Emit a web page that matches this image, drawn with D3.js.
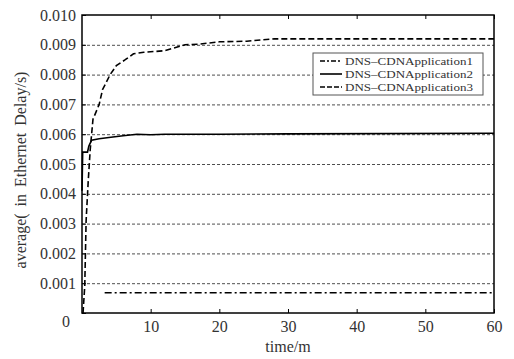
<!DOCTYPE html>
<html>
<head>
<meta charset="utf-8">
<script src="https://cdn.jsdelivr.net/npm/d3@7"></script>
<style>
    body { margin: 0; background: #fff; }
    .grid line { stroke: #222; stroke-width: 0.8; stroke-dasharray: 3,2; }
    .series { fill: none; stroke: #000; stroke-width: 1.6; }
</style>
</head>
<body>
<svg id="chart"></svg>
<script>
var w = 514,
    h = 359;

var margin = {
    top: 15,
    right: 20,
    bottom: 46,
    left: 82
},
    width = w - margin.left - margin.right,
    height = h - margin.top - margin.bottom;

// values
var seriesNames = ["DNS\u2013CDNApplication1", "DNS\u2013CDNApplication2", "DNS\u2013CDNApplication3"];
var app1 = [[3.3, 0.00068], [60, 0.00068]];
var app2 = [[0, 0.0041], [0.1, 0.0054], [0.8, 0.0054], [1.0, 0.0056], [1.4, 0.0058], [2.5, 0.00585],
            [4.2, 0.0059], [6, 0.00595], [8, 0.006], [10, 0.00598], [12, 0.006], [20, 0.006],
            [30, 0.00601], [60, 0.00603]];
var app3 = [[0.15, 0], [0.4, 0.0009], [0.6, 0.0031], [0.9, 0.0044], [1.2, 0.0055], [1.6, 0.0065],
            [2.5, 0.007], [3.0, 0.0075], [4.1, 0.008], [5, 0.0083], [6.3, 0.0085], [7.5, 0.0087],
            [9, 0.00875], [12, 0.0088], [15, 0.009], [17, 0.00902], [20, 0.0091], [24, 0.00912],
            [28, 0.0092], [60, 0.0092]];
var xTicks = [10, 20, 30, 40, 50, 60];
var yTicks = [0, 0.001, 0.002, 0.003, 0.004, 0.005, 0.006, 0.007, 0.008, 0.009, 0.010];
var dashes = ["7,3,2,3", null, "6,3"];

var x = d3.scaleLinear()
    .domain([0, 60])
    .range([0, width]);

var y = d3.scaleLinear()
    .domain([0, 0.010])
    .range([height, 0]);

var svg = d3.select("#chart")
    .attr("width", w)
    .attr("height", h);

var g = svg.append("g")
    .attr("transform", "translate(" + margin.left + "," + margin.top + ")");

// horizontal dashed grid
g.append("g")
    .attr("class", "grid")
    .selectAll("line")
    .data(yTicks.filter(function(d) { return d > 0 && d < 0.010; }))
    .enter()
    .append("line")
    .attr("x1", 0)
    .attr("x2", width)
    .attr("y1", function(d) { return y(d) + 0.5; })
    .attr("y2", function(d) { return y(d) + 0.5; });

// axes, ticks pointing inward
g.append("g")
    .attr("transform", "translate(0," + height + ")")
    .call(d3.axisBottom(x).tickValues(xTicks).tickSize(-4).tickPadding(8).tickSizeOuter(0));

g.append("g")
    .call(d3.axisTop(x).tickValues(xTicks).tickSize(-4).tickFormat("").tickSizeOuter(0));

var yAxis = g.append("g")
    .call(d3.axisLeft(y).tickValues(yTicks).tickSize(-4).tickPadding(6)
        .tickFormat(function(d) { return d === 0 ? "0" : d3.format(".3f")(d); }).tickSizeOuter(0));

g.selectAll(".domain").remove();
g.selectAll(".tick line").attr("stroke", "#000");
g.selectAll(".tick text")
    .attr("font-size", 16);

// the zero label sits a bit lower in the original
yAxis.selectAll(".tick text")
    .filter(function(d) { return d === 0; })
    .attr("dy", "0.85em")
    .attr("x", -12);

// frame
g.append("rect")
    .attr("width", width)
    .attr("height", height)
    .attr("fill", "none")
    .attr("stroke", "#000")
    .attr("stroke-width", 1.5);

// series
var line = d3.line()
    .x(function(d) { return x(d[0]); })
    .y(function(d) { return y(d[1]); });

[app1, app2, app3].forEach(function(s, i) {
    g.append("path")
        .attr("class", "series")
        .attr("d", line(s))
        .attr("stroke-dasharray", dashes[i]);
});

// legend
var legend = g.append("g")
    .attr("transform", "translate(" + (313 - margin.left) + "," + (53 - margin.top) + ")");

legend.append("rect")
    .attr("width", 170)
    .attr("height", 42)
    .attr("fill", "#fff")
    .attr("stroke", "#555")
    .attr("stroke-width", 1);

seriesNames.forEach(function(name, i) {
    var ly = 8 + i * 13;
    legend.append("line")
        .attr("class", "series")
        .attr("x1", 7)
        .attr("x2", 29)
        .attr("y1", ly)
        .attr("y2", ly)
        .attr("stroke-width", 1.5)
        .attr("stroke-dasharray", i === 0 ? "5,2,2,2" : dashes[i] ? "5,2" : null);
    legend.append("text")
        .attr("x", 32)
        .attr("y", ly)
        .attr("dy", "0.33em")
        .attr("font-size", 11)
        .attr("textLength", 128)
        .attr("lengthAdjust", "spacingAndGlyphs")
        .text(name);
});

// axis titles
svg.append("text")
    .attr("x", margin.left + width / 2)
    .attr("y", 352)
    .attr("text-anchor", "middle")
    .attr("font-size", 16)
    .text("time/m");

svg.append("text")
    .attr("transform", "translate(26," + (margin.top + height / 2 + 6) + ") rotate(-90)")
    .attr("text-anchor", "middle")
    .attr("font-size", 16)
    .attr("word-spacing", 3)
    .text("average( in Ethernet Delay/s)");

// one serif face for every label
svg.selectAll("text")
    .attr("font-family", "Liberation Serif")
    .attr("fill", "#333");
</script>
</body>
</html>
